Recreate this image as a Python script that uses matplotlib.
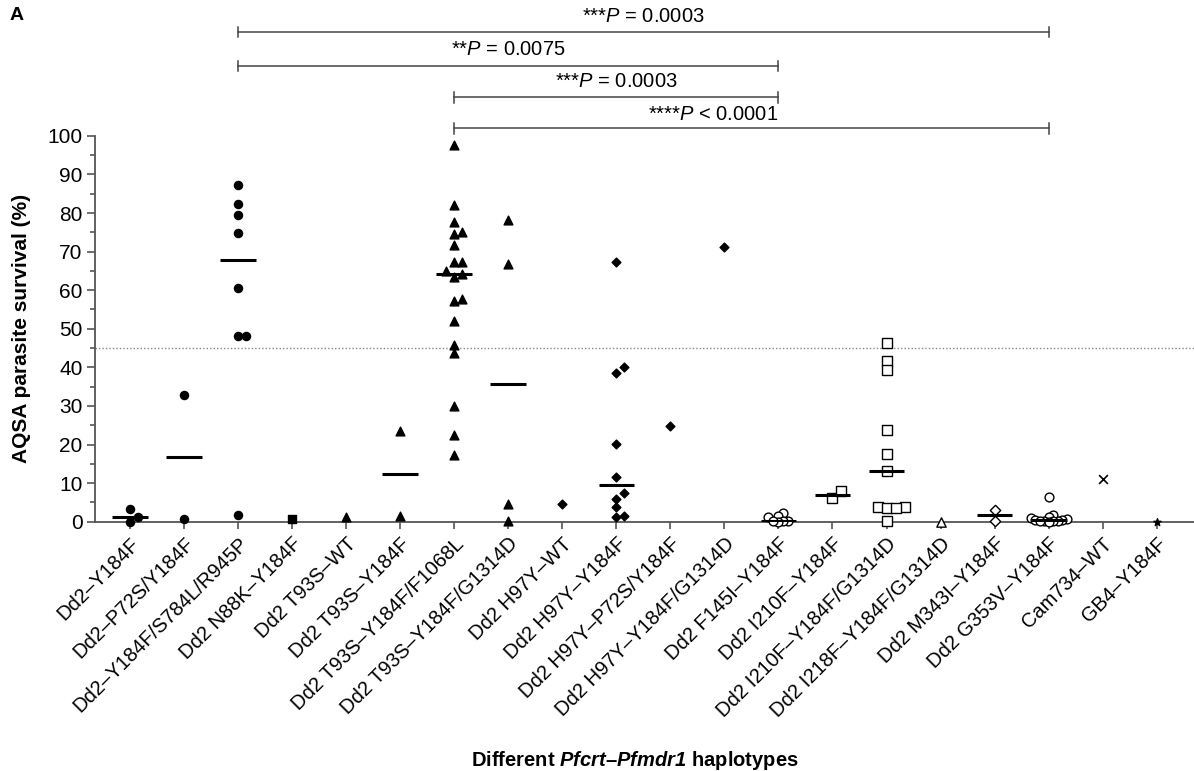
import numpy as np
import matplotlib.pyplot as plt

plt.rcParams['font.family'] = ['Liberation Sans', 'DejaVu Sans']
plt.rcParams['mathtext.fontset'] = 'custom'
plt.rcParams['mathtext.rm'] = 'Liberation Sans'
plt.rcParams['mathtext.it'] = 'Liberation Sans:italic'
plt.rcParams['mathtext.bf'] = 'Liberation Sans:bold'
plt.rcParams['mathtext.bfit'] = 'Liberation Sans:bold:italic'

# ------------------------------------
# Data
# ------------------------------------

haplotypes = [
    "Dd2\u2013Y184F",
    "Dd2\u2013P72S/Y184F",
    "Dd2\u2013Y184F/S784L/R945P",
    "Dd2 N88K\u2013Y184F",
    "Dd2 T93S\u2013WT",
    "Dd2 T93S\u2013Y184F",
    "Dd2 T93S\u2013Y184F/F1068L",
    "Dd2 T93S\u2013Y184F/G1314D",
    "Dd2 H97Y\u2013WT",
    "Dd2 H97Y\u2013Y184F",
    "Dd2 H97Y\u2013P72S/Y184F",
    "Dd2 H97Y\u2013Y184F/G1314D",
    "Dd2 F145I\u2013Y184F",
    "Dd2 I210F\u2013Y184F",
    "Dd2 I210F\u2013Y184F/G1314D",
    "Dd2 I218F\u2013Y184F/G1314D",
    "Dd2 M343I\u2013Y184F",
    "Dd2 G353V\u2013Y184F",
    "Cam734\u2013WT",
    "GB4\u2013Y184F",
]

survival = [
    [0.0, 3.3, 1.3],
    [32.8, 0.6],
    [87.2, 82.3, 79.5, 74.8, 60.6, 48.2, 48.0, 1.7],
    [0.7],
    [1.3],
    [23.4, 1.5],
    [97.6, 82.0, 77.6, 75.1, 74.5, 71.6, 67.2, 67.2, 65.0, 64.1,
     63.5, 57.2, 57.7, 52.0, 45.7, 43.6, 30.0, 22.5, 17.3],
    [78.3, 66.7, 4.5, 0.2],
    [4.7],
    [67.4, 38.6, 40.0, 20.1, 11.6, 7.4, 5.9, 3.7, 1.1, 1.6],
    [24.8],
    [71.1],
    [2.3, 1.5, 1.2, 0.2, 0.1, 0.0, 0.1],
    [6.1, 7.9],
    [46.2, 41.6, 39.2, 23.8, 17.6, 13.2, 3.9, 3.6, 3.9, 3.6, 0.3],
    [0.0],
    [3.0, 0.3],
    [6.5, 1.7, 1.2, 0.9, 0.8, 0.5, 0.4, 0.3, 0.2, 0.1, 0.0, 0.3],
    [11.1],
    [0.0],
]

comparisons = [
    (2, 17, "***$\\mathit{P}$ = 0.0003"),
    (2, 12, "**$\\mathit{P}$ = 0.0075"),
    (6, 12, "***$\\mathit{P}$ = 0.0003"),
    (6, 17, "****$\\mathit{P}$ < 0.0001"),
]

threshold = 45

# ------------------------------------
# Styles
# ------------------------------------

# marker, size, filled, swarm spacing (px)
styles = [
    ("o", 34, True, 8), ("o", 34, True, 8), ("o", 34, True, 8),
    ("s", 30, True, 8),
    ("^", 40, True, 8), ("^", 40, True, 8), ("^", 40, True, 8),
    ("^", 40, True, 8),
    ("D", 20, True, 8), ("D", 20, True, 8), ("D", 20, True, 8),
    ("D", 20, True, 8),
    ("o", 40, False, 5),
    ("s", 45, False, 9), ("s", 45, False, 9),
    ("^", 45, False, 8),
    ("D", 28, False, 8),
    ("o", 40, False, 4.5),
    ("x", 40, True, 8),
    ("*", 30, True, 8),
]

bracket_y = [126.9, 118.1, 110.0, 102.0]
text_y = [130.8, 122.5, 114.0, 105.6]

PX_X = 54.04   # pixels per category
PX_Y = 3.86    # pixels per % unit


def swarm(vals, diam=9.0):
    ypx = np.asarray(vals) * PX_Y
    order = np.argsort(ypx)
    placed = []
    offs = np.zeros(len(vals))
    for k in order:
        for c in [0, 1, -1, 2, -2, 3, -3, 4, -4, 5, -5]:
            x = c * diam
            if all((x - px) ** 2 + (ypx[k] - py) ** 2 >= diam ** 2
                   for px, py in placed):
                break
        placed.append((x, ypx[k]))
        offs[k] = x / PX_X
    return offs


fig = plt.figure(figsize=(11.94, 7.71), dpi=100)
ax = fig.add_axes([95 / 1194, 1 - 521.7 / 771, 1099 / 1194, 521.7 / 771])

for i, (vals, (mk, sz, filled, sp)) in enumerate(zip(survival, styles)):
    xs = i + swarm(vals, sp)
    if mk == "x":
        ax.scatter(xs, vals, marker=mk, s=sz, color="black",
                   linewidths=1.2, clip_on=False, zorder=3)
    else:
        ax.scatter(xs, vals, marker=mk, s=sz,
                   facecolor="black" if filled else "white",
                   edgecolor="black", linewidths=1.0,
                   clip_on=False, zorder=3)
    if len(vals) > 1:
        ax.hlines(np.median(vals), i - 0.33, i + 0.33, color="black",
                  linewidth=2.2, zorder=4)

ax.axhline(threshold, color="#888888", linestyle=(0, (1, 1.5)),
           linewidth=1.0, zorder=1)

# significance brackets
for (a, b, label), by, ty in zip(comparisons, bracket_y, text_y):
    ax.plot([a, b], [by, by], color="#444444", lw=1.1, clip_on=False)
    for xe in (a, b):
        ax.plot([xe, xe], [by - 1.4, by + 1.4], color="#444444", lw=1.1,
                clip_on=False)
    if a == 6 and b == 17:
        ax.text(12, ty, label, ha="right", va="center", fontsize=14.5)
    else:
        ax.text((a + b) / 2, ty, label, ha="center", va="center",
                fontsize=14.5)

ax.set_xlim(-0.648, 19.69)
ax.set_ylim(0, 135.2)

for s in ["top", "right"]:
    ax.spines[s].set_visible(False)
for s in ["left", "bottom"]:
    ax.spines[s].set_color("#555555")
    ax.spines[s].set_linewidth(1.3)
ax.spines["left"].set_bounds(0, 100)

ax.set_yticks(range(0, 101, 10))
ax.set_yticks(range(5, 100, 10), minor=True)
ax.tick_params(axis="y", which="major", length=6, width=1.2,
               color="#555555", labelsize=15, pad=3)
ax.tick_params(axis="y", which="minor", length=3.5, width=1.2,
               color="#555555")

ax.set_xticks(range(len(haplotypes)))
ax.set_xticklabels(haplotypes, rotation=45, ha="right",
                   rotation_mode="anchor")
ax.tick_params(axis="x", length=5, width=1.2, color="#555555",
               labelsize=14.5, pad=4)

ax.set_ylabel("AQSA parasite survival (%)", fontweight="bold",
              fontsize=15)
ax.yaxis.set_label_coords(-0.058, 50 / 135.2)

fig.text(635 / 1194, 1 - 760 / 771,
         "Different $\\mathbfit{Pfcrt}$\u2013$\\mathbfit{Pfmdr1}$ haplotypes",
         ha="center", va="center", fontsize=14.5, fontweight="bold")

fig.text(10 / 1194, 1 - 16 / 771, "A", fontweight="bold", fontsize=14,
         va="center")

plt.savefig("out.png", dpi=100)
